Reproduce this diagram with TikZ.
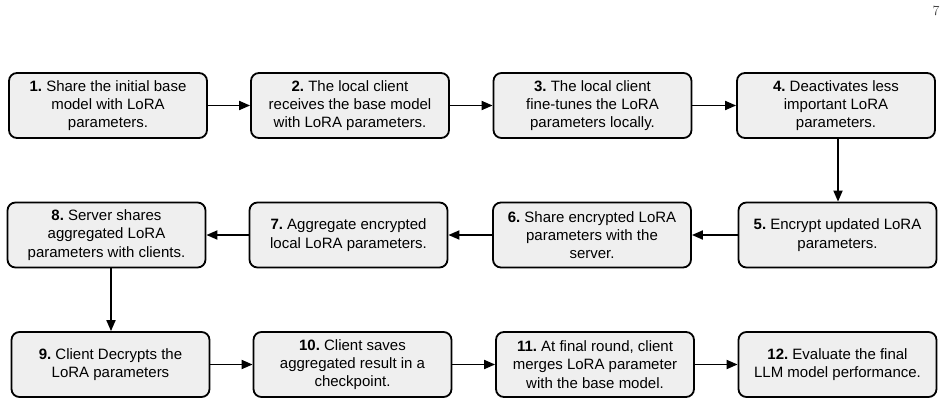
\documentclass[tikz,border=0pt]{standalone}
\usepackage{fontspec}
\setmainfont{Liberation Sans}
\newfontfamily\pagefont{Latin Modern Roman}
\usetikzlibrary{arrows.meta}
\frenchspacing
\begin{document}
\begin{tikzpicture}[x=1pt,y=-1pt,
  stepbox/.style={draw=black, line width=1.8pt, rounded corners=8pt, fill=boxgray,
    minimum width=198pt, minimum height=65pt, align=center, inner sep=2pt,
    font=\fontsize{15pt}{18.3pt}\selectfont},
  flow/.style={line width=1.8pt, -{Triangle[length=11pt,width=9pt]}}]
\definecolor{boxgray}{HTML}{EFEFEF}
\useasboundingbox (0,0) rectangle (947,404);
\node[font=\pagefont\fontsize{14pt}{15pt}\selectfont, text=black!75] (pg) at (936,11) {7};
% row 1
\node[stepbox] (n1) at (108,105.5) {\textbf{1.} Share the initial base\\model with LoRA\\parameters.};
\node[stepbox] (n2) at (350,105.5) {\textbf{2.} The local client\\receives the base model\\with LoRA parameters.};
\node[stepbox] (n3) at (592.5,105.5) {\textbf{3.} The local client\\fine-tunes the LoRA\\parameters locally.};
\node[stepbox] (n4) at (836,105.5) {\textbf{4.} Deactivates less\\important LoRA\\parameters.};
% row 2
\node[stepbox] (n5) at (837.5,235) {\textbf{5.} Encrypt updated LoRA\\parameters.};
\node[stepbox] (n6) at (592,235) {\textbf{6.} Share encrypted LoRA\\parameters with the\\server.};
\node[stepbox] (n7) at (348.5,235) {\textbf{7.} Aggregate encrypted\\local LoRA parameters.};
\node[stepbox] (n8) at (106.5,235) {\textbf{8.} Server shares\\aggregated LoRA\\parameters with clients.};
% row 3
\node[stepbox] (n9) at (110.5,364.5) {\textbf{9.} Client Decrypts the\\LoRA parameters};
\node[stepbox] (n10) at (352.5,364.5) {\textbf{10.} Client saves\\aggregated result in a\\checkpoint.};
\node[stepbox] (n11) at (595,364.5) {\textbf{11.} At final round, client\\merges LoRA parameter\\with the base model.};
\node[stepbox] (n12) at (837.5,364.5) {\textbf{12.} Evaluate the final\\LLM model performance.};
% connectors
\draw[flow] (n1) -- (n2);
\draw[flow] (n2) -- (n3);
\draw[flow] (n3) -- (n4);
\draw[flow] (n4.south -| 838,0) -- (n5.north -| 838,0);
\draw[flow] (n5) -- (n6);
\draw[flow] (n6) -- (n7);
\draw[flow] (n7) -- (n8);
\draw[flow] (n8.south -| 111,0) -- (n9.north -| 111,0);
\draw[flow] (n9) -- (n10);
\draw[flow] (n10) -- (n11);
\draw[flow] (n11) -- (n12);
\end{tikzpicture}
\end{document}
